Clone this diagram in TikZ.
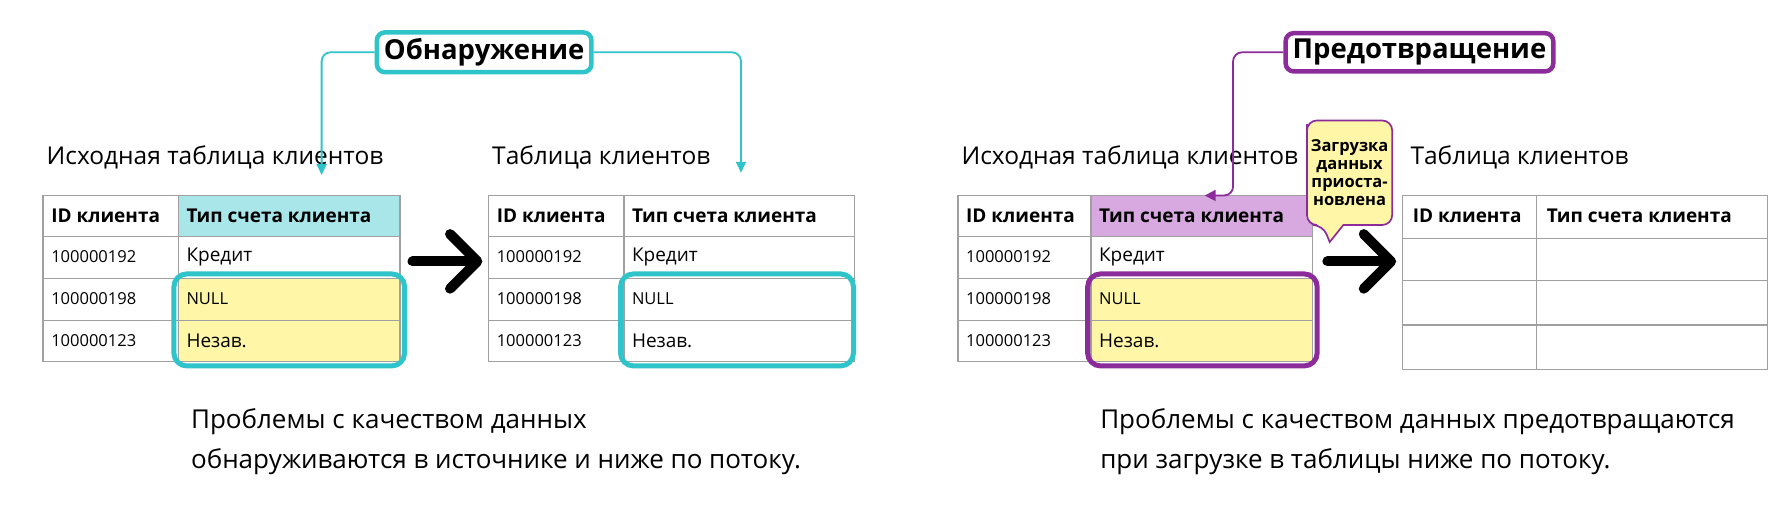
\documentclass[tikz,border=0pt]{standalone}
\usepackage{fontspec}
\setmainfont{Open Sans}
\usetikzlibrary{arrows.meta}
\definecolor{teal}{HTML}{2EC4C9}
\definecolor{teallt}{HTML}{A8E6EA}
\definecolor{purp}{HTML}{8B2C9A}
\definecolor{purplt}{HTML}{D8A8E0}
\definecolor{yel}{HTML}{FFF6A8}
\definecolor{grid}{HTML}{A0A0A0}
\begin{document}
\begin{tikzpicture}[x=1.1365pt,y=-1.1365pt,
  cell/.style={anchor=west,font=\fontsize{16.5}{18}\selectfont},
  cellb/.style={anchor=west,font=\fontsize{19}{21}\selectfont},
  head/.style={anchor=west,font=\bfseries\fontsize{19}{21}\selectfont},
  ttl/.style={anchor=base west,font=\fontsize{24.5}{28}\selectfont},
  gl/.style={grid,line width=1.5pt},
  big/.style={line width=10pt,line cap=round,line join=round},
  hi/.style={line width=5pt,rounded corners=13pt},
  tag/.style={draw,line width=4.5pt,rounded corners=8pt,fill=white,font=\bfseries\fontsize{27.5}{30}\selectfont,inner xsep=7pt,inner ysep=6pt},
  conn/.style={line width=1.8pt,rounded corners=9pt},
  foot/.style={anchor=north west,align=left,font=\fontsize{26}{40}\selectfont}]
\useasboundingbox (0,0) rectangle (1568,443.5);
\fill[white] (0,0) rectangle (1568,443.5);
% ---------- left table 1
\fill[teallt] (157,172) rectangle (352,208);
\fill[yel] (157,245) rectangle (352,318);
\draw[gl] (38,172) rectangle (352,318);
\foreach \y in {208,245,282} \draw[gl] (38,\y) -- (352,\y);
\draw[gl] (157,172) -- (157,318);
\node[head] at (42,190) {ID клиента};
\node[head] at (161,190) {Тип счета клиента};
\node[cell] at (42,226) {100000192}; \node[cellb] at (161,226) {Кредит};
\node[cell] at (42,263) {100000198}; \node[cell] at (161,263) {NULL};
\node[cell] at (42,300) {100000123}; \node[cellb] at (161,300) {Незав.};
\draw[teal,hi] (153,241) rectangle (356,322);
\node[ttl] (t1) at (38,145) {Исходная таблица клиентов};
% ---------- left table 2
\draw[gl] (430,172) rectangle (752,318);
\foreach \y in {208,245,282} \draw[gl] (430,\y) -- (752,\y);
\draw[gl] (549,172) -- (549,318);
\node[head] at (434,190) {ID клиента};
\node[head] at (553,190) {Тип счета клиента};
\node[cell] at (434,226) {100000192}; \node[cellb] at (553,226) {Кредит};
\node[cell] at (434,263) {100000198}; \node[cell] at (553,263) {NULL};
\node[cell] at (434,300) {100000123}; \node[cellb] at (553,300) {Незав.};
\draw[teal,hi] (546,241) rectangle (751,322);
\node[ttl] (t2) at (430,145) {Таблица клиентов};
% big arrow
\draw[big] (363,230) -- (418,230); \draw[big] (396,206) -- (420,230) -- (396,254);
% Обнаружение
\node[tag,draw=teal] (det) at (426,46) {Обнаружение};
\coordinate (d1) at (283,154); \coordinate (d2) at (652,152);
\draw[teal,conn,-{Triangle[width=10pt,length=11pt]}] (det.west) -| (d1);
\draw[teal,conn,-{Triangle[width=10pt,length=11pt]}] (det.east) -| (d2);
\node[foot] at (165,356) {Проблемы с качеством данных\\обнаруживаются в источнике и ниже по потоку.};
% ---------- right table 1
\fill[purplt] (960,172) rectangle (1155,208);
\fill[yel] (960,245) rectangle (1155,318);
\draw[gl] (843,172) rectangle (1155,318);
\foreach \y in {208,245,282} \draw[gl] (843,\y) -- (1155,\y);
\draw[gl] (960,172) -- (960,318);
\node[head] at (847,190) {ID клиента};
\node[head] at (964,190) {Тип счета клиента};
\node[cell] at (847,226) {100000192}; \node[cellb] at (964,226) {Кредит};
\node[cell] at (847,263) {100000198}; \node[cell] at (964,263) {NULL};
\node[cell] at (847,300) {100000123}; \node[cellb] at (964,300) {Незав.};
\draw[purp,hi] (957,241) rectangle (1159,322);
\node[ttl] (t3) at (843,145) {Исходная таблица клиентов};
% ---------- right table 2
\draw[gl] (1234,172) rectangle (1555,325);
\foreach \y in {210,247,286} \draw[gl] (1234,\y) -- (1555,\y);
\draw[gl] (1352,172) -- (1352,325);
\node[head] at (1240,190) {ID клиента};
\node[head] at (1358,190) {Тип счета клиента};
\node[ttl] (t4) at (1238,145) {Таблица клиентов};
% big arrow
\draw[big] (1168,230) -- (1222,230); \draw[big] (1200,206) -- (1224,230) -- (1200,254);
% callout
\draw[purp,line width=1.7pt,fill=yel,rounded corners=10pt] (1150,118) -- (1150,198) -- (1164,198)
  [sharp corners] -- (1170,213) -- (1182,198) [rounded corners=10pt] -- (1225,198) -- (1225,106) -- (1150,106) -- cycle;
\node[align=center,font=\bfseries\fontsize{16.5}{18}\selectfont] (call) at (1187.5,152) {Загрузка\\данных\\приоста-\\новлена};
% Предотвращение
\node[tag,draw=purp] (prev) at (1249,46) {Предотвращение};
\coordinate (p1) at (1060,172);
\draw[purp,conn,-{Triangle[width=11pt,length=11pt]}] (prev.west) -| (1085,172) -- (p1);
\node[foot] at (965,356) {Проблемы с качеством данных предотвращаются\\при загрузке в таблицы ниже по потоку.};
\end{tikzpicture}
\end{document}
